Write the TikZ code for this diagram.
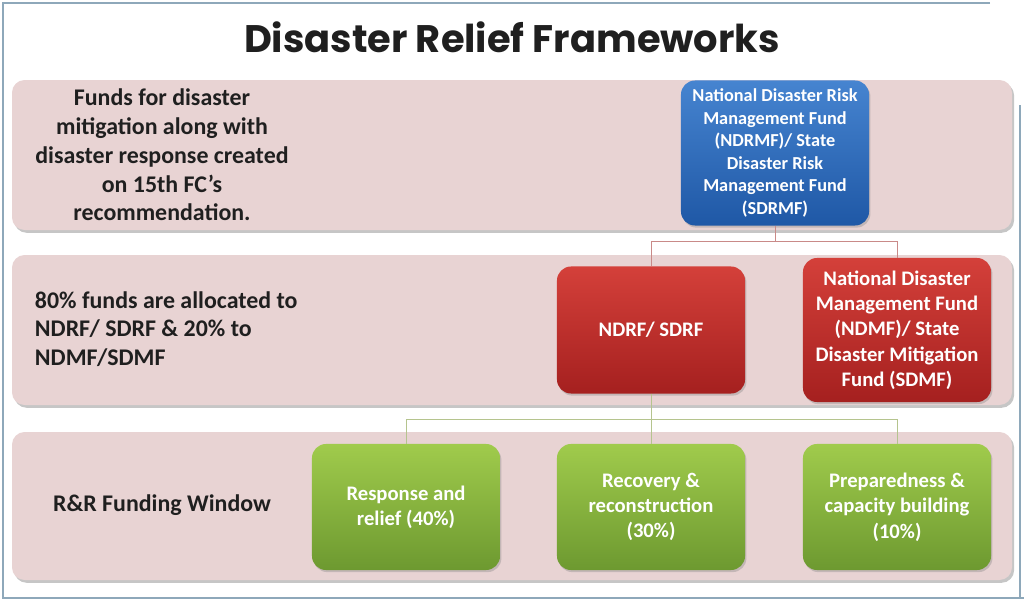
\documentclass[tikz,border=0pt]{standalone}
\usepackage{fontspec}
\setmainfont{Carlito}
\newfontfamily\titlefont{Poppins}
\usetikzlibrary{shadows}

\definecolor{bandpink}{HTML}{E8D3D3}
\definecolor{framegray}{HTML}{8EA8BA}
\definecolor{bluetop}{HTML}{4684D0}
\definecolor{bluebot}{HTML}{1F58A6}
\definecolor{redtop}{HTML}{D4403A}
\definecolor{redbot}{HTML}{A5201F}
\definecolor{greentop}{HTML}{A0CB4C}
\definecolor{greenbot}{HTML}{6D9930}
\definecolor{redlink}{HTML}{C98A88}
\definecolor{greenlink}{HTML}{B5C48E}

\tikzset{
  band/.style={fill=bandpink, rounded corners=9pt,
    drop shadow={shadow xshift=1.5pt, shadow yshift=-2pt, opacity=0.45}},
  fundbox/.style={rounded corners=10pt, text=white, align=center,
    font=\bfseries\fontsize{13}{16}\selectfont, minimum width=4.7cm,
    drop shadow={shadow xshift=1pt, shadow yshift=-1.5pt, opacity=0.35}},
  bluebox/.style={fundbox, top color=bluetop, bottom color=bluebot},
  redbox/.style={fundbox, top color=redtop, bottom color=redbot,
    font=\bfseries\fontsize{14.7}{18}\selectfont},
  greenbox/.style={fundbox, top color=greentop, bottom color=greenbot,
    font=\bfseries\fontsize{14.7}{18}\selectfont, minimum height=3.15cm},
  bandtext/.style={text=black!88, font=\bfseries\fontsize{17}{20.5}\selectfont}
}

\begin{document}
\begin{tikzpicture}[x=0.025cm, y=-0.025cm]
  \useasboundingbox (0,0) rectangle (1024,605);
  % frame
  \draw[framegray, line width=1.1pt] (990,3) -- (3,3) -- (3,598) -- (1024,598);
  \draw[framegray, line width=1.1pt] (1020,105) -- (1020,598);
  % title
  \node[font=\titlefont\bfseries\fontsize{27.3}{30}\selectfont, text=black!88]
    (title) at (512,37) {Disaster Relief Frameworks};
  % bands
  \path[band] (12,80) rectangle (1012,230);
  \path[band] (12,255) rectangle (1012,405);
  \path[band] (12,432) rectangle (1012,580);
  % band texts
  \node[bandtext, align=center] (mitigtxt) at (162,155)
    {Funds for disaster\\ mitigation along with\\ disaster response created\\ on 15th FC’s\\ recommendation.};
  \node[bandtext, align=left, anchor=west] (alloctxt) at (30,329)
    {80\% funds are allocated to\\ NDRF/ SDRF \& 20\% to\\ NDMF/SDMF};
  \node[bandtext] (windowtxt) at (162,505) {R\&R Funding Window};
  % fund boxes
  \node[bluebox, minimum height=3.625cm] (ndrmf) at (775,153)
    {National Disaster Risk\\ Management Fund\\ (NDRMF)/ State\\ Disaster Risk\\ Management Fund\\ (SDRMF)};
  \node[redbox, minimum height=3.175cm] (ndrf) at (651,330) {NDRF/ SDRF};
  \node[redbox, minimum height=3.6cm] (ndmf) at (897,330)
    {National Disaster\\ Management Fund\\ (NDMF)/ State\\ Disaster Mitigation\\ Fund (SDMF)};
  \node[greenbox] (relief) at (406,507) {Response and\\ relief (40\%)};
  \node[greenbox] (recon) at (651,507) {Recovery \&\\ reconstruction\\ (30\%)};
  \node[greenbox] (prep) at (897,507) {Preparedness \&\\ capacity building\\ (10\%)};
  % links
  \draw[redlink, line width=0.6pt] (ndrmf.south) -- ++(0,16) -| (ndrf.north);
  \draw[redlink, line width=0.6pt] (ndrmf.south) -- ++(0,16) -| (ndmf.north);
  \draw[greenlink, line width=0.6pt] (ndrf.south) -- ++(0,26) -| (relief.north);
  \draw[greenlink, line width=0.6pt] (ndrf.south) -- (recon.north);
  \draw[greenlink, line width=0.6pt] (ndrf.south) -- ++(0,26) -| (prep.north);
\end{tikzpicture}
\end{document}
